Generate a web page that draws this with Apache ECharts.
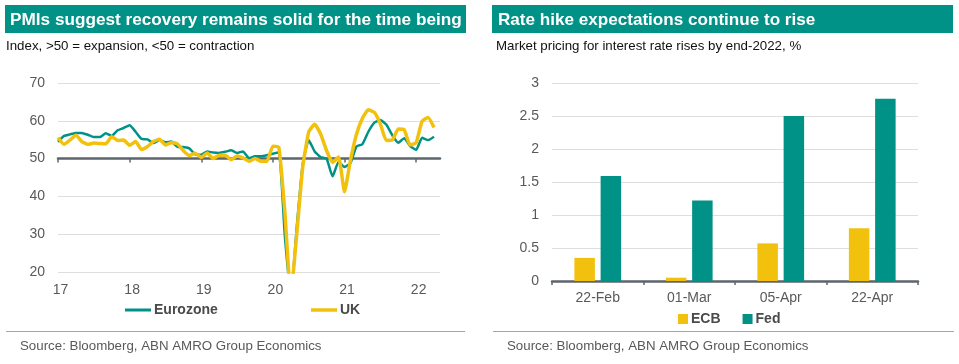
<!DOCTYPE html>
<html><head><meta charset="utf-8">
<script src="https://cdn.jsdelivr.net/npm/echarts@6/dist/echarts.min.js"></script>
<style>html,body{margin:0;padding:0;background:#fff}#c{width:959px;height:364px}</style>
</head><body><div id="c"></div>
<script>
// ---- Left chart data: composite PMIs, monthly from Jan 2017 ----
const pmiStartYear = 2017;
const pmiAxisMonths = 65; // axis spans Jan 2017 .. May 2022
const eurozone = [
  54.4, 56.0, 56.4, 56.8, 56.8, 56.3, 55.7, 55.7, 56.7, 56.0, 57.5, 58.1,
  58.8, 57.1, 55.2, 55.1, 54.1, 54.9, 54.3, 54.5, 53.1, 53.1, 52.7, 51.1,
  51.0, 51.9, 51.6, 51.5, 51.8, 52.2, 51.5, 51.9, 50.1, 50.6, 50.6, 50.9,
  51.3, 51.6, 29.7, 13.6, 31.9, 48.5, 54.9, 51.9, 50.4, 50.0, 45.3, 49.1,
  47.8, 48.8, 53.2, 53.8, 57.1, 59.5, 60.2, 59.0, 56.2, 54.2, 55.4, 53.3,
  52.3, 55.5, 54.9, 55.8
];
const uk = [
  55.6, 53.8, 54.9, 56.2, 54.5, 53.8, 54.1, 54.0, 53.9, 55.8, 54.8, 54.9,
  53.5, 54.5, 52.4, 53.2, 54.5, 55.1, 53.6, 54.2, 53.9, 52.1, 50.8, 51.4,
  50.3, 51.5, 50.0, 50.9, 50.9, 49.7, 50.7, 50.2, 49.3, 50.0, 49.3, 49.3,
  53.3, 53.0, 36.0, 13.8, 30.0, 47.7, 57.0, 59.1, 56.5, 52.1, 49.0, 50.4,
  41.2, 49.6, 56.4, 60.7, 62.9, 62.2, 59.2, 54.8, 54.9, 57.8, 57.6, 53.6,
  54.2, 59.9, 60.9, 58.2
];
const pmiYMin = 20, pmiYMax = 70, pmiYStep = 10, pmiAxisCross = 50;

// ---- Right chart data ----
const rateDates = ['22-Feb', '01-Mar', '05-Apr', '22-Apr'];
const ecb = [0.35, 0.05, 0.57, 0.80];
const fed = [1.59, 1.22, 2.50, 2.76];
const rateYMin = 0, rateYMax = 3, rateYStep = 0.5;

// ---- build ----
const months = [];
for (let i = 0; i < pmiAxisMonths; i++) {
  const y = pmiStartYear + Math.floor(i / 12), m = (i % 12) + 1;
  months.push(y + '-' + (m < 10 ? '0' + m : m));
}
const isJan = (idx, v) => months[idx].endsWith('-01');

const TEAL = '#009286', YEL = '#F2C10E', AX = '#5d656d', GRID = '#dedede', LBL = '#595959';
const FONT = 'Liberation Sans, Arial, sans-serif';

const g0 = { left: 58, top: 83, width: 382, height: 189 };
const crossOffset = -(pmiAxisCross - pmiYMin) / (pmiYMax - pmiYMin) * g0.height;

const chart = echarts.init(document.getElementById('c'), null, { renderer: 'canvas' });
chart.setOption({
  animation: false,
  backgroundColor: '#fff',
  textStyle: { fontFamily: FONT },
  grid: [
    g0,
    { left: 552, top: 83, width: 366, height: 198 }
  ],
  xAxis: [
    { gridIndex: 0, type: 'category', data: months, boundaryGap: false,
      axisLine: { show: false }, axisTick: { show: false },
      axisLabel: { interval: isJan, formatter: v => v.slice(2, 4), color: LBL, fontSize: 14, margin: 11, fontFamily: FONT, padding: [0, 0, 0, 5] },
      splitLine: { show: false } },
    { gridIndex: 0, type: 'category', data: months, boundaryGap: false, position: 'bottom', offset: crossOffset,
      axisLine: { show: true, lineStyle: { color: AX, width: 2.5 } },
      axisTick: { show: true, interval: isJan, length: 4, lineStyle: { color: AX, width: 1.5 } },
      axisLabel: { show: false }, splitLine: { show: false } },
    { gridIndex: 1, type: 'category', data: rateDates, boundaryGap: true,
      axisLine: { show: true, lineStyle: { color: AX, width: 2.5 } },
      axisTick: { show: true, length: 4, lineStyle: { color: AX, width: 1.5 } },
      axisLabel: { color: LBL, fontSize: 14, margin: 10, fontFamily: FONT } }
  ],
  yAxis: [
    { gridIndex: 0, type: 'value', min: pmiYMin, max: pmiYMax, interval: pmiYStep,
      axisLine: { show: false }, axisTick: { show: false },
      axisLabel: { color: LBL, fontSize: 14, margin: 13, fontFamily: FONT },
      splitLine: { lineStyle: { color: GRID, width: 1 } } },
    { gridIndex: 1, type: 'value', min: rateYMin, max: rateYMax, interval: rateYStep,
      axisLine: { show: false }, axisTick: { show: false },
      axisLabel: { color: LBL, fontSize: 14, margin: 13, fontFamily: FONT },
      splitLine: { lineStyle: { color: GRID, width: 1 } } }
  ],
  legend: [
    { data: ['Eurozone'], left: 120, top: 298, icon: 'rect', itemWidth: 26, itemHeight: 3,
      textStyle: { color: '#4a4a4a', fontSize: 14, fontWeight: 'bold', fontFamily: FONT, padding: [0, 0, 0, -2] } },
    { data: ['UK'], left: 306, top: 298, icon: 'rect', itemWidth: 26, itemHeight: 3.5,
      textStyle: { color: '#4a4a4a', fontSize: 14, fontWeight: 'bold', fontFamily: FONT, padding: [0, 0, 0, -2] } },
    { data: ['ECB', 'Fed'], left: 673, top: 307, icon: 'rect', itemWidth: 10, itemHeight: 10, itemGap: 22,
      textStyle: { color: '#4a4a4a', fontSize: 14, fontWeight: 'bold', fontFamily: FONT, padding: [0, 0, 0, -2] } }
  ],
  series: [
    { name: 'Eurozone', type: 'line', xAxisIndex: 0, yAxisIndex: 0, data: eurozone,
      showSymbol: false, symbol: 'none', smooth: 0.15, clip: true,
      lineStyle: { color: TEAL, width: 2.5, join: 'round' }, itemStyle: { color: TEAL } },
    { name: 'UK', type: 'line', xAxisIndex: 0, yAxisIndex: 0, data: uk,
      showSymbol: false, symbol: 'none', smooth: 0.15, clip: true,
      lineStyle: { color: YEL, width: 3.5, join: 'round' }, itemStyle: { color: YEL } },
    { name: 'ECB', type: 'bar', xAxisIndex: 2, yAxisIndex: 1, data: ecb,
      barWidth: 20.5, barGap: '28%', itemStyle: { color: YEL } },
    { name: 'Fed', type: 'bar', xAxisIndex: 2, yAxisIndex: 1, data: fed,
      barWidth: 20.5, barGap: '28%', itemStyle: { color: TEAL } }
  ],
  graphic: [
    { type: 'rect', shape: { x: 5, y: 5, width: 461, height: 28 }, style: { fill: TEAL }, silent: true },
    { type: 'text', x: 10, y: 20, style: { text: 'PMIs suggest recovery remains solid for the time being', fill: '#fff',
      font: 'bold 17.2px ' + FONT, verticalAlign: 'middle' } },
    { type: 'text', x: 6, y: 46, style: { text: 'Index, >50 = expansion, <50 = contraction', fill: '#111',
      font: '13.3px ' + FONT, verticalAlign: 'middle' } },
    { type: 'rect', shape: { x: 492, y: 5, width: 461, height: 28 }, style: { fill: TEAL }, silent: true },
    { type: 'text', x: 498, y: 20, style: { text: 'Rate hike expectations continue to rise', fill: '#fff',
      font: 'bold 17.1px ' + FONT, verticalAlign: 'middle' } },
    { type: 'text', x: 496, y: 46, style: { text: 'Market pricing for interest rate rises by end-2022, %', fill: '#111',
      font: '13.3px ' + FONT, verticalAlign: 'middle' } },
    { type: 'line', shape: { x1: 6, y1: 331.5, x2: 465, y2: 331.5 }, style: { stroke: '#a6a6a6', lineWidth: 1 } },
    { type: 'line', shape: { x1: 493, y1: 331.5, x2: 954, y2: 331.5 }, style: { stroke: '#a6a6a6', lineWidth: 1 } },
    { type: 'text', x: 20, y: 346, style: { text: 'Source: Bloomberg, ABN AMRO Group Economics', fill: LBL,
      font: '13.3px ' + FONT, verticalAlign: 'middle' } },
    { type: 'text', x: 507, y: 346, style: { text: 'Source: Bloomberg, ABN AMRO Group Economics', fill: LBL,
      font: '13.3px ' + FONT, verticalAlign: 'middle' } }
  ]
});
</script>
</body></html>
